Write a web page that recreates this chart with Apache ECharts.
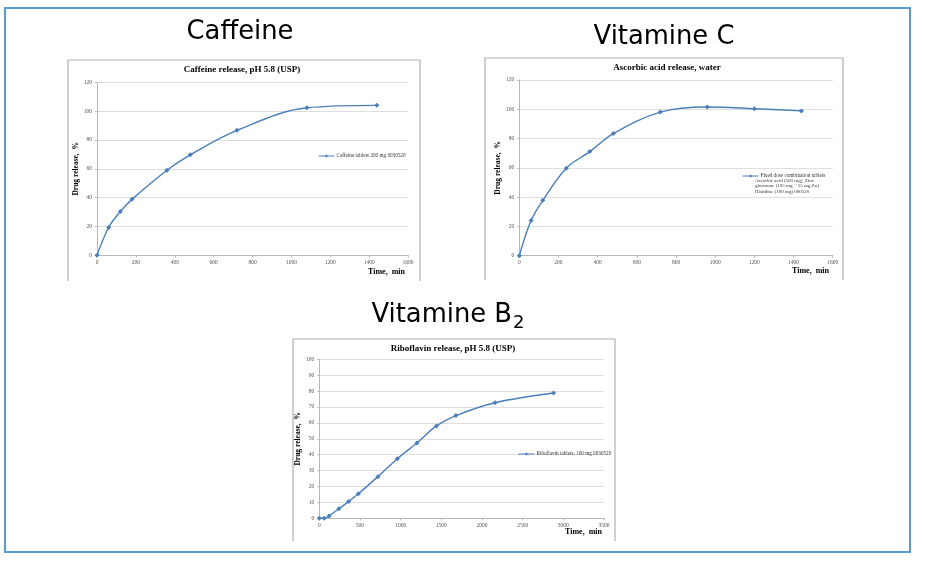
<!DOCTYPE html>
<html><head><meta charset="utf-8">
<script src="https://cdn.jsdelivr.net/npm/echarts@6/dist/echarts.min.js"></script>
<style>html,body{margin:0;padding:0;background:#fff;}#c{width:925px;height:561px;}</style>
</head><body><div id="c"></div>
<script>
const caffeineTime = [0, 60, 120, 180, 360, 480, 720, 1080, 1440];
const caffeineRelease = [0, 19.3, 30.3, 38.8, 59.0, 69.7, 86.7, 102.3, 104.0];
const vitCTime = [0, 60, 120, 240, 360, 480, 720, 960, 1200, 1440];
const vitCRelease = [0, 24.0, 37.8, 59.8, 71.1, 83.4, 98.1, 101.6, 100.4, 98.9];
const b2Time = [0, 60, 120, 240, 360, 480, 720, 960, 1200, 1440, 1680, 2160, 2880];
const b2Release = [0, 0, 1.5, 6.0, 10.5, 15.4, 26.2, 37.5, 47.4, 58.1, 64.6, 72.7, 78.8];
const caffeineName = 'Caffeine tablets 200 mg 0030520';
const vitCName = 'Fixed dose combination tablets';
const vitCNameExtra = 'Ascorbic acid (500 mg), Zinc\ngluconate (105 mg ~ 15 mg Zn)\nHistidine (100 mg) 000520';
const b2Name = 'Riboflavin tablets, 100 mg 0030520';

const blue = '#4a7ebb';
const serif = '"Liberation Serif", "DejaVu Serif", serif';
const chart = echarts.init(document.getElementById('c'));

function pairs(xs, ys) { return xs.map((x, i) => [x, ys[i]]); }
const plain = v => String(v);

function mkX(idx, max, interval) {
  return {
    gridIndex: idx, type: 'value', min: 0, max: max, interval: interval,
    axisLine: { show: true, lineStyle: { color: '#b8b8b8', width: 1 } },
    axisTick: { show: true, length: 2, lineStyle: { color: '#b8b8b8' } },
    axisLabel: { fontSize: 5.5, color: '#555', fontFamily: serif, margin: 4, formatter: plain },
    splitLine: { show: false }
  };
}
function mkY(idx, max, interval, gap) {
  return {
    gridIndex: idx, type: 'value', min: 0, max: max, interval: interval,
    name: 'Drug release,  %', nameLocation: 'middle', nameRotate: 90, nameGap: gap,
    nameTextStyle: { fontSize: 7.5, fontWeight: 'bold', fontFamily: serif, color: '#000' },
    axisLine: { show: true, lineStyle: { color: '#b8b8b8', width: 1 } },
    axisTick: { show: true, length: 2, lineStyle: { color: '#b8b8b8' } },
    axisLabel: { fontSize: 5.5, color: '#555', fontFamily: serif, margin: 5, formatter: plain },
    splitLine: { show: true, lineStyle: { color: '#d6d6d6', width: 0.8 } }
  };
}
function mkSeries(name, idx, data) {
  return {
    name: name, type: 'line', xAxisIndex: idx, yAxisIndex: idx, data: data,
    smooth: 0.35, symbol: 'diamond', symbolSize: 5, showSymbol: true,
    lineStyle: { color: blue, width: 1.4 }, itemStyle: { color: blue },
    emphasis: { disabled: true }, animation: false
  };
}
function mkLegend(name, left, top) {
  return {
    data: [{ name: name, itemStyle: { color: blue }, lineStyle: { width: 1 } }],
    left: left, top: top, padding: 0, itemWidth: 16, itemHeight: 4, itemGap: 0,
    textStyle: { fontSize: 5.2, fontFamily: serif, color: '#333', padding: [0, 0, 0, -3] },
    selectedMode: false
  };
}
function frame(x1, y1, x2, y2) {
  return {
    type: 'polyline', silent: true,
    shape: { points: [[x1, y2], [x1, y1], [x2, y1], [x2, y2]] },
    style: { stroke: '#b0b0b0', lineWidth: 1.2, fill: null }
  };
}
const bigTitle = { fontSize: 25.8, fontWeight: 'normal', fontFamily: '"DejaVu Sans", Verdana, sans-serif', color: '#000' };
const chTitle = { fontSize: 9, fontWeight: 'bold', fontFamily: serif, color: '#000' };
const axTitle = { fontSize: 8, fontWeight: 'bold', fontFamily: serif, color: '#000' };

chart.setOption({
  backgroundColor: '#fff',
  animation: false,
  title: [
    { text: 'Caffeine', left: 240, top: 19, textAlign: 'center', padding: 0, textStyle: bigTitle },
    { text: 'Vitamine C', left: 664, top: 24, textAlign: 'center', padding: 0, textStyle: bigTitle },
    { text: 'Vitamine B{sub|2}', left: 448, top: 299, textAlign: 'center', padding: 0,
      textStyle: Object.assign({}, bigTitle, { rich: { sub: { fontSize: 18, fontFamily: '"DejaVu Sans", sans-serif', color: '#000', verticalAlign: 'bottom', padding: [15, 0, 0, 1] } } }) },
    { text: 'Caffeine release, pH 5.8 (USP)', left: 242, top: 65, textAlign: 'center', padding: 0, textStyle: chTitle },
    { text: 'Ascorbic acid release, water', left: 667, top: 63, textAlign: 'center', padding: 0, textStyle: chTitle },
    { text: 'Riboflavin release, pH 5.8 (USP)', left: 453, top: 344, textAlign: 'center', padding: 0, textStyle: chTitle },
    { text: 'Time,  min', left: 405, top: 268, textAlign: 'right', padding: 0, textStyle: axTitle },
    { text: 'Time,  min', left: 829, top: 267, textAlign: 'right', padding: 0, textStyle: axTitle },
    { text: 'Time,  min', left: 602, top: 528, textAlign: 'right', padding: 0, textStyle: axTitle },
    { text: vitCNameExtra, left: 755, top: 178, padding: 0, textStyle: { fontSize: 5, fontFamily: serif, color: '#333', fontWeight: 'normal', lineHeight: 5.4 } }
  ],
  graphic: [
    { type: 'rect', silent: true, shape: { x: 5, y: 8, width: 905, height: 544 }, style: { stroke: '#5b9bd5', lineWidth: 2, fill: null } },
    frame(68, 60, 420, 281),
    frame(485, 58, 843, 280),
    frame(293, 339, 615, 541)
  ],
  grid: [
    { left: 97, top: 82.3, width: 311, height: 173 },
    { left: 519.3, top: 80, width: 313.4, height: 175.7 },
    { left: 319.3, top: 359.3, width: 284.7, height: 159 }
  ],
  xAxis: [mkX(0, 1600, 200), mkX(1, 1600, 200), mkX(2, 3500, 500)],
  yAxis: [mkY(0, 120, 20, 17), mkY(1, 120, 20, 17), mkY(2, 100, 10, 16)],
  legend: [
    mkLegend(caffeineName, 318, 153.5),
    mkLegend(vitCName, 742, 173.5),
    mkLegend(b2Name, 518, 451.5)
  ],
  series: [
    mkSeries(caffeineName, 0, pairs(caffeineTime, caffeineRelease)),
    mkSeries(vitCName, 1, pairs(vitCTime, vitCRelease)),
    mkSeries(b2Name, 2, pairs(b2Time, b2Release))
  ]
});
</script></body></html>
